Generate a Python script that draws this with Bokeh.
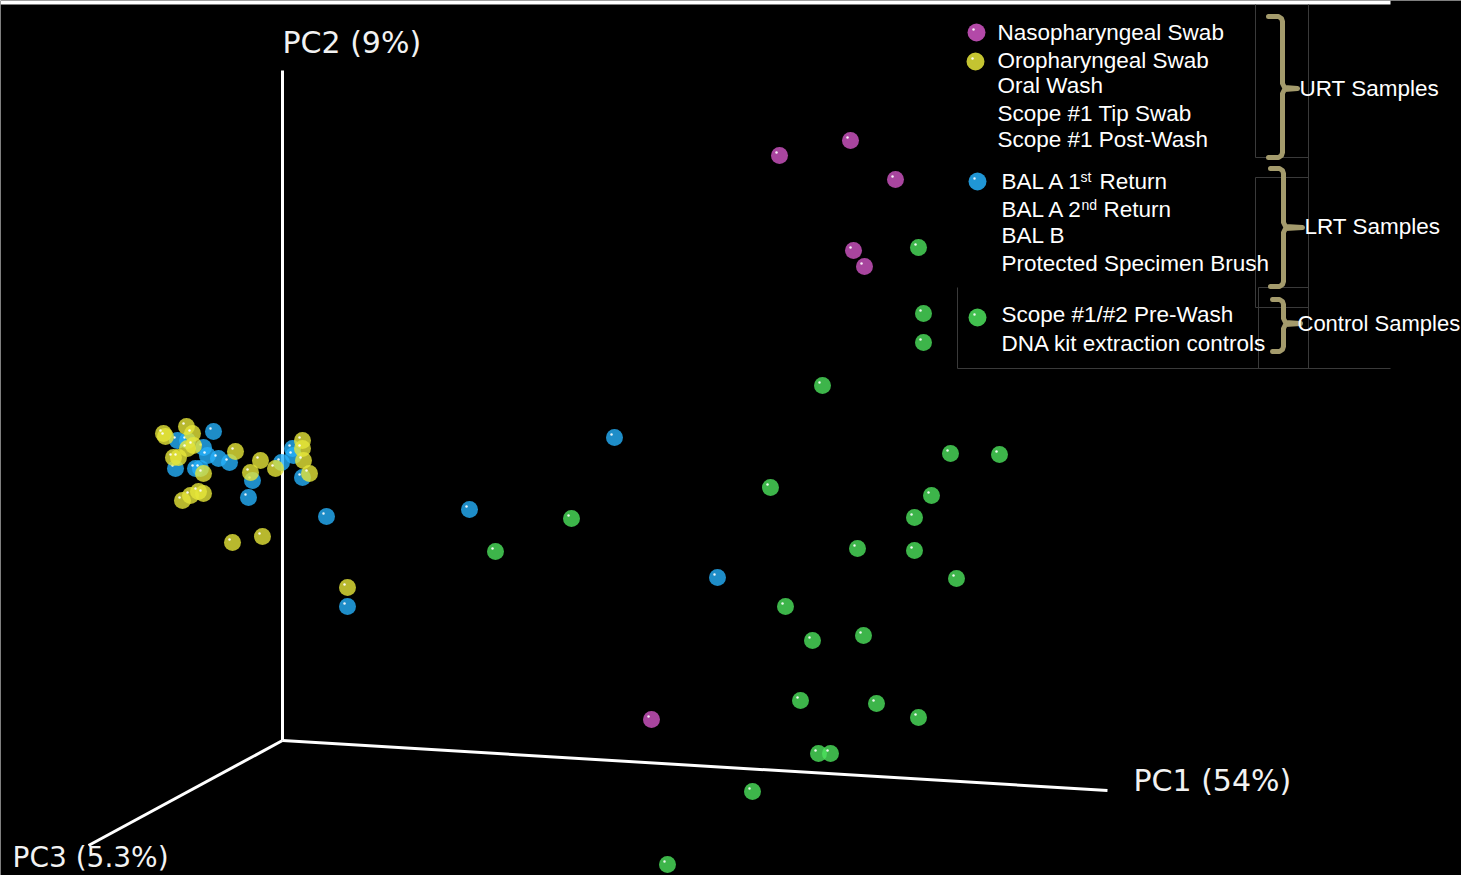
from bokeh.plotting import figure
from bokeh.models import Range1d
from bokeh.core.properties import value
from bokeh.embed import file_html
from bokeh.resources import INLINE

# ---------------- data (projected screen positions) ----------------
naso_x = [850, 779, 895, 853, 864, 651]
naso_y = [140, 155, 179, 250, 266, 719]

oro_x = [163, 165, 186, 192, 187, 173, 178, 235, 203, 260, 250, 275, 302, 302, 303, 309,
         182, 190, 198, 203, 232, 262, 347, 193]
oro_y = [433, 436, 426, 433, 448, 457, 457, 451, 473, 460, 472, 468, 440, 448, 460, 473,
         500, 495, 491, 493, 542, 536, 587, 445]

bal_x = [213, 177, 187, 203, 207, 218, 229, 175, 195, 200, 252, 248, 281, 292, 293, 302,
         326, 347, 469, 614, 717]
bal_y = [431, 440, 440, 447, 455, 458, 462, 468, 468, 468, 480, 497, 462, 448, 455, 477,
         516, 606, 509, 437, 577]

ctrl_x = [918, 923, 923, 822, 950, 999, 770, 931, 571, 914, 495, 857, 914, 956, 785, 812,
          863, 800, 876, 918, 818, 830, 752, 667]
ctrl_y = [247, 313, 342, 385, 453, 454, 487, 495, 518, 517, 551, 548, 550, 578, 606, 640,
          635, 700, 703, 717, 753, 753, 791, 864]

axis_labels = ["PC1 (54%)", "PC2 (9%)", "PC3 (5.3%)"]

legend_urt = ["Nasopharyngeal Swab", "Oropharyngeal Swab", "Oral Wash",
              "Scope #1 Tip Swab", "Scope #1 Post-Wash"]
legend_lrt = ["BAL A 1", "BAL A 2", "BAL B", "Protected Specimen Brush"]
legend_ctrl = ["Scope #1/#2 Pre-Wash", "DNA kit extraction controls"]
group_labels = ["URT Samples", "LRT Samples", "Control Samples"]

# ---------------- styles ----------------
C_MAG = "#D256C6"
C_YEL = "#E6E63A"
C_BLU = "#26B0FA"
C_GRN = "#4CE25C"
ALPHA = 0.8
BRACE = "#A49B6C"
GRAYLINE = "#3a3a3a"
FONT = "Liberation Sans"

W, H = 1461, 875
p = figure(width=W, height=H, x_range=Range1d(0, W), y_range=Range1d(H, 0),
           output_backend="svg", toolbar_location=None,
           x_axis_type=None, y_axis_type=None,
           background_fill_color="black", border_fill_color="black", min_border=0)
p.grid.visible = False
p.outline_line_color = None

# thin white strip along the top edge
p.quad(left=[0], right=[1390], top=[0], bottom=[4], fill_color="white", line_color=None)

# ---------------- 3D axes ----------------
ox, oy = 282, 740
p.segment(x0=[ox, ox, ox], y0=[oy, oy, oy], x1=[1107, 282, 88], y1=[790, 70, 845],
          line_color="white", line_width=3)

for lx, ly, lab, fs in [(1133, 780, axis_labels[0], "30px"), (282, 42, axis_labels[1], "30px"),
                        (12, 857, axis_labels[2], "28px")]:
    p.text(x=[lx], y=[ly], text=[lab], text_font=value("DejaVu Sans"),
           text_font_size=fs, text_color="#f2f2f2", text_baseline="middle")

# ---------------- points ----------------
def balls(xs, ys, color, size=17, alpha=ALPHA):
    p.scatter(x=xs, y=ys, size=size, fill_color=color, fill_alpha=alpha, line_color=None)
    p.scatter(x=[v - 3 for v in xs], y=[v - 3 for v in ys], size=2.5,
              fill_color="white", fill_alpha=0.9, line_color=None)

balls(bal_x, bal_y, C_BLU)
balls(oro_x, oro_y, C_YEL)
balls(ctrl_x, ctrl_y, C_GRN)
balls(naso_x, naso_y, C_MAG)

# ---------------- legend box lines ----------------
gx0 = [1255, 1308, 1255, 1255, 1255, 1258, 1258, 1255, 957, 957]
gy0 = [4, 4, 157, 177, 177, 287, 287, 307, 287, 368]
gx1 = [1255, 1308, 1308, 1308, 1255, 1258, 1308, 1308, 957, 1390]
gy1 = [157, 368, 157, 177, 307, 368, 287, 307, 368, 368]
p.segment(x0=gx0, y0=gy0, x1=gx1, y1=gy1, line_color=GRAYLINE, line_width=1)

# ---------------- legend markers ----------------
balls([976], [32], C_MAG, size=18, alpha=0.85)
balls([975], [61], C_YEL, size=18, alpha=0.85)
balls([977], [181], C_BLU, size=18, alpha=0.85)
balls([977], [317], C_GRN, size=18, alpha=0.85)

# ---------------- legend texts ----------------
ty_urt = [32, 60, 85, 113, 139]
p.text(x=[997] * 5, y=ty_urt, text=legend_urt, text_font=value(FONT),
       text_font_size="22.5px", text_color="white", text_baseline="middle")
ty_lrt = [181, 209, 235, 263]
p.text(x=[1001] * 4, y=ty_lrt, text=legend_lrt, text_font=value(FONT),
       text_font_size="22.5px", text_color="white", text_baseline="middle")
p.text(x=[1080, 1081], y=[176, 204], text=["st", "nd"], text_font=value(FONT),
       text_font_size="14px", text_color="white", text_baseline="middle")
p.text(x=[1099, 1103], y=[181, 209], text=["Return", "Return"], text_font=value(FONT),
       text_font_size="22.5px", text_color="white", text_baseline="middle")
p.text(x=[1001, 1001], y=[314, 343], text=legend_ctrl, text_font=value(FONT),
       text_font_size="22.5px", text_color="white", text_baseline="middle")

# ---------------- braces ----------------
def brace(L, S, T, M, B, tip):
    xs = [L, S - 4, S - 1, S, S, S + 2, tip, S + 2, S, S, S - 1, S - 4, L]
    ys = [T, T, T + 2, T + 5, M - 5, M - 1, M, M + 1, M + 5, B - 5, B - 2, B, B]
    return xs, ys

bx, by = [], []
for args in [(1268, 1282, 16, 88, 157, 1297), (1270, 1283, 168, 227, 286, 1302),
             (1272, 1283, 299, 323, 351, 1300)]:
    a, b = brace(*args)
    bx.append(a)
    by.append(b)
p.multi_line(xs=bx, ys=by, line_color=BRACE, line_width=5, line_cap="round", line_join="round")

p.text(x=[1299, 1304, 1297], y=[88, 226, 323], text=group_labels, text_font=value(FONT),
       text_font_size=["22.5px", "22.5px", "22px"], text_color="white", text_baseline="middle")

open("out.html", "w").write(file_html(p, INLINE))
